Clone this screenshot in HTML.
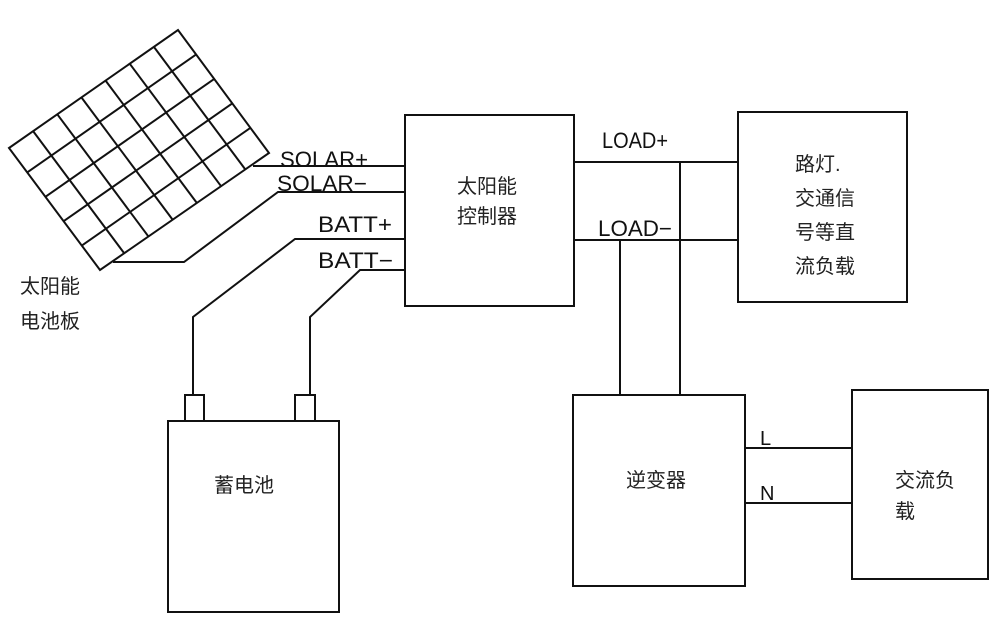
<!DOCTYPE html>
<html><head><meta charset="utf-8"><style>
html,body{margin:0;padding:0;background:#fff;}
svg{display:block;}
.c{font-family:"Liberation Sans","Noto Sans CJK SC",sans-serif;font-size:20px;fill:#222;}
.l{font-family:"Liberation Sans",sans-serif;font-size:22px;fill:#111;}
</style></head><body>
<svg width="1000" height="630" viewBox="0 0 1000 630" xmlns="http://www.w3.org/2000/svg">
<g stroke="#111" stroke-width="2" fill="none">
<polygon points="9,148 178,30 269,153 100,270"/>
<line x1="33.1" y1="131.1" x2="124.1" y2="253.1"/>
<line x1="57.3" y1="114.3" x2="148.3" y2="236.3"/>
<line x1="81.4" y1="97.4" x2="172.4" y2="219.4"/>
<line x1="105.6" y1="80.6" x2="196.6" y2="202.6"/>
<line x1="129.7" y1="63.7" x2="220.7" y2="185.7"/>
<line x1="153.9" y1="46.9" x2="244.9" y2="168.9"/>
<line x1="27.2" y1="172.4" x2="196.2" y2="54.4"/>
<line x1="45.4" y1="196.8" x2="214.4" y2="78.8"/>
<line x1="63.6" y1="221.2" x2="232.6" y2="103.2"/>
<line x1="81.8" y1="245.6" x2="250.8" y2="127.6"/>
<polyline points="253,166 405,166"/>
<polyline points="113,262 184,262 278,192 405,192"/>
<polyline points="193,395 193,317 295,239 405,239"/>
<polyline points="310,395 310,317 360,270 405,270"/>
<rect x="405" y="115" width="169" height="191"/>
<line x1="574" y1="162" x2="738" y2="162"/>
<line x1="574" y1="240" x2="738" y2="240"/>
<line x1="680" y1="162" x2="680" y2="395"/>
<line x1="620" y1="240" x2="620" y2="395"/>
<rect x="738" y="112" width="169" height="190"/>
<rect x="168" y="421" width="171" height="191"/>
<rect x="185" y="395" width="19" height="26"/>
<rect x="295" y="395" width="20" height="26"/>
<rect x="573" y="395" width="172" height="191"/>
<line x1="745" y1="448" x2="852" y2="448"/>
<line x1="745" y1="503" x2="852" y2="503"/>
<rect x="852" y="390" width="136" height="189"/>
</g>
<g class="l">
<text x="280" y="167" textLength="88" lengthAdjust="spacingAndGlyphs">SOLAR+</text>
<text x="277" y="191" textLength="90" lengthAdjust="spacingAndGlyphs">SOLAR−</text>
<text x="318" y="232" textLength="74" lengthAdjust="spacingAndGlyphs">BATT+</text>
<text x="318" y="268" textLength="75" lengthAdjust="spacingAndGlyphs">BATT−</text>
<text x="602" y="148" textLength="66" lengthAdjust="spacingAndGlyphs">LOAD+</text>
<text x="598" y="236" textLength="74" lengthAdjust="spacingAndGlyphs">LOAD−</text>
<text x="760" y="445" style="font-size:20px">L</text>
<text x="760" y="500" style="font-size:20px">N</text>
</g>
<g class="c">
<text x="20" y="293">太阳能</text>
<text x="20" y="328">电池板</text>
<text x="457" y="193">太阳能</text>
<text x="457" y="223">控制器</text>
<text x="795" y="171">路灯.</text>
<text x="795" y="205">交通信</text>
<text x="795" y="239">号等直</text>
<text x="795" y="273">流负载</text>
<text x="214" y="492">蓄电池</text>
<text x="626" y="487">逆变器</text>
<text x="895" y="487">交流负</text>
<text x="895" y="518">载</text>
</g>
</svg>
</body></html>
